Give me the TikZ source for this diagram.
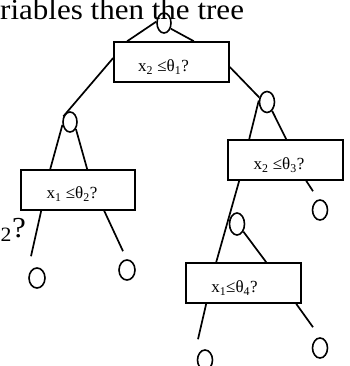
\documentclass[tikz,border=0pt]{standalone}
\usepackage{fontspec}
\setmainfont{Liberation Serif}
\newfontfamily\widefont[FakeStretch=1.07]{Liberation Serif}
\usetikzlibrary{shapes.geometric}
\tikzset{
  testbox/.style={draw, line width=1.6pt, minimum width=115pt, minimum height=40pt, inner sep=0pt, fill=white},
  leaf/.style={draw, ellipse, line width=1.6pt, minimum width=14pt, minimum height=20pt, inner sep=0pt},
  boxtext/.style={font=\fontsize{17}{19}\selectfont, inner sep=0pt},
  bigtext/.style={font=\widefont\fontsize{29}{32}\selectfont, inner sep=0pt},
  edge/.style={line width=1.7pt}
}
\begin{document}
\begin{tikzpicture}[x=1pt, y=-1pt]
\useasboundingbox (0,0) rectangle (349,366);
\clip (0,0) rectangle (349,366);
% texts cut at the edges
\node[bigtext, anchor=base west] (top) at (0,19.5) {riables then the tree};
\node[bigtext, anchor=base east] (frag) at (26,237) {\textsubscript{2}?};
% circles
\node[leaf] (r) at (164,23) {};
\node[leaf] (c2) at (70,122) {};
\node[leaf, minimum width=15pt, minimum height=21pt] (c3) at (267,102) {};
\node[leaf, minimum width=15pt, minimum height=22pt] (c4) at (237,224) {};
\node[leaf, minimum width=16pt] (l1) at (37,278) {};
\node[leaf, minimum width=16pt] (l2) at (127,270) {};
\node[leaf, minimum width=15pt] (l3) at (320,210) {};
\node[leaf, minimum width=15pt] (l4) at (205,360) {};
\node[leaf, minimum width=15pt] (l5) at (320,348) {};
% boxes
\node[testbox] (b1) at (171.5,62) {};
\node[testbox, minimum width=114pt] (b2) at (78,190) {};
\node[testbox] (b3) at (285.5,160) {};
\node[testbox] (b4) at (243.5,283) {};
% box texts
\node[boxtext] (t1) at (163.5,67) {x\textsubscript{2} ≤θ\textsubscript{1}?};
\node[boxtext] (t2) at (72,194) {x\textsubscript{1} ≤θ\textsubscript{2}?};
\node[boxtext] (t3) at (279,165) {x\textsubscript{2} ≤θ\textsubscript{3}?};
\node[boxtext] (t4) at (234.5,288) {x\textsubscript{1}≤θ\textsubscript{4}?};
% connectors
\draw[edge] (r.170) -- ([xshift=14pt]b1.north west);
\draw[edge] (r.-40) -- ([xshift=-36pt]b1.north east);
\draw[edge] ([yshift=4pt]b1.west) -- (c2.140);
\draw[edge] ([yshift=-5pt]b1.east) -- (c3.150);
\draw[edge] (c2.200) -- ([xshift=30pt]b2.north west);
\draw[edge] (c2.-50) -- ([xshift=67pt]b2.north west);
\draw[edge] ([xshift=21pt]b2.south west) -- ([xshift=-6pt,yshift=11pt]l1.north);
\draw[edge] ([xshift=84pt]b2.south west) -- ([xshift=-4pt,yshift=8pt]l2.north);
\draw[edge] (c3.170) -- ([xshift=22pt]b3.north west);
\draw[edge] (c3.-60) -- ([xshift=59pt]b3.north west);
\draw[edge] ([xshift=79pt]b3.south west) -- ([xshift=-7pt,yshift=8pt]l3.north);
\draw[edge] ([xshift=12pt]b3.south west) -- ([xshift=31pt]b4.north west);
\draw[edge] (c4.-50) -- ([xshift=81pt]b4.north west);
\draw[edge] ([xshift=21pt]b4.south west) -- ([xshift=-7pt,yshift=10pt]l4.north);
\draw[edge] ([xshift=111pt]b4.south west) -- ([xshift=-7pt,yshift=10pt]l5.north);
\end{tikzpicture}
\end{document}
